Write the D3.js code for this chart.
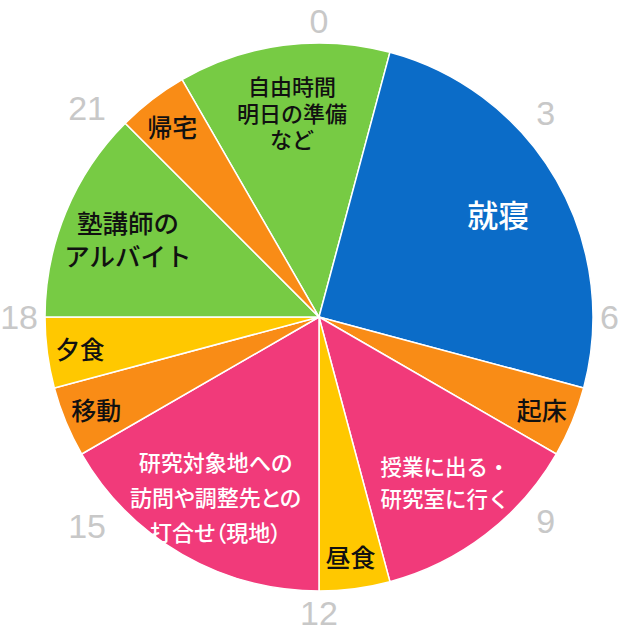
<!DOCTYPE html>
<html><head><meta charset="utf-8">
<script src="https://cdn.jsdelivr.net/npm/d3@7"></script>
<style>html,body{margin:0;padding:0;background:#fff;}svg{display:block;}</style>
</head><body>
<script>
// Data: a 24-hour day, slices listed clockwise starting at 22:00
const categories = [
  ["自由時間","明日の準備","など"],
  ["就寝"],
  ["起床"],
  ["授業に出る・","研究室に行く"],
  ["昼食"],
  ["研究対象地への","訪問や調整先との","打合せ（現地）"],
  ["移動"],
  ["夕食"],
  ["塾講師の","アルバイト"],
  ["帰宅"]
];
const hours = [3, 6, 1, 3, 1, 4, 1, 1, 3, 1];
const startHour = 22;
const colors = ["#77CB44","#0B6CC8","#F98C16","#F13A7A","#FFC800","#F13A7A","#F98C16","#FFC800","#77CB44","#F98C16"];
const textColors = ["#111","#fff","#111","#fff","#111","#fff","#111","#111","#111","#111"];
const fontSizes = [22, 31, 25, 21.5, 25, 22, 25, 24.5, 25.5, 25];
const lineHeights = [26.5, 30, 30, 32, 30, 35, 30, 30, 33, 30];
const tickLabels = ["0","3","6","9","12","15","18","21"];

const W = 619, H = 629, cx = 319, cy = 317, R = 274;
const svg = d3.select("body").append("svg").attr("width", W).attr("height", H);
const g = svg.append("g").attr("transform", `translate(${cx},${cy})`);

const hourScale = d3.scaleLinear().domain([0, 24]).range([0, 2 * Math.PI]);
const offset = hourScale(startHour);
const pie = d3.pie().value(d => d).sort(null)
  .startAngle(offset).endAngle(offset + 2 * Math.PI);
const arcs = pie(hours);
const arc = d3.arc().innerRadius(0).outerRadius(R);

g.selectAll("path.slice").data(arcs).enter().append("path")
  .attr("class","slice")
  .attr("d", arc)
  .attr("fill", (d,i) => colors[i])
  .attr("stroke", "#fff").attr("stroke-width", 1.5).attr("stroke-linejoin","round");

const font = "'Noto Sans CJK JP','Noto Sans CJK SC',sans-serif";
arcs.forEach((d, i) => {
  const mid = (d.startAngle + d.endAngle) / 2;
  const r = R * (hours[i] <= 1 ? 0.88 : 0.755);
  const x = Math.sin(mid) * r, y = -Math.cos(mid) * r;
  const lines = categories[i];
  const lh = lineHeights[i];
  const t = g.append("text")
    .attr("text-anchor","middle")
    .attr("font-family", font)
    .attr("font-weight", 500)
    .attr("font-size", fontSizes[i])
    .attr("fill", textColors[i]);
  if (lines.some(l => l.includes("（"))) t.style("font-feature-settings", "'palt'");
  lines.forEach((ln, j) => {
    t.append("tspan").attr("x", x)
      .attr("y", y + (j - (lines.length - 1) / 2) * lh)
      .attr("dominant-baseline","central")
      .text(ln);
  });
});

// hour labels around the clock, placed just outside the rim by their box size
tickLabels.forEach(lbl => {
  const a0 = hourScale(+lbl);
  const a = a0 + (3 * Math.PI / 180) * Math.sin(2 * a0);
  const t = g.append("text")
    .attr("text-anchor","middle")
    .attr("dominant-baseline","central")
    .attr("font-family","'Liberation Sans',Arial,sans-serif")
    .attr("font-size", 34)
    .attr("fill", "#c8c8c8")
    .text(lbl);
  const bb = t.node().getBBox();
  const r = 281 + (bb.width / 2) * Math.abs(Math.sin(a)) + 15 * Math.abs(Math.cos(a))
            + 7 * Math.abs(Math.sin(2 * a));
  t.attr("x", Math.sin(a) * r).attr("y", -Math.cos(a) * r);
});
</script>
</body></html>
